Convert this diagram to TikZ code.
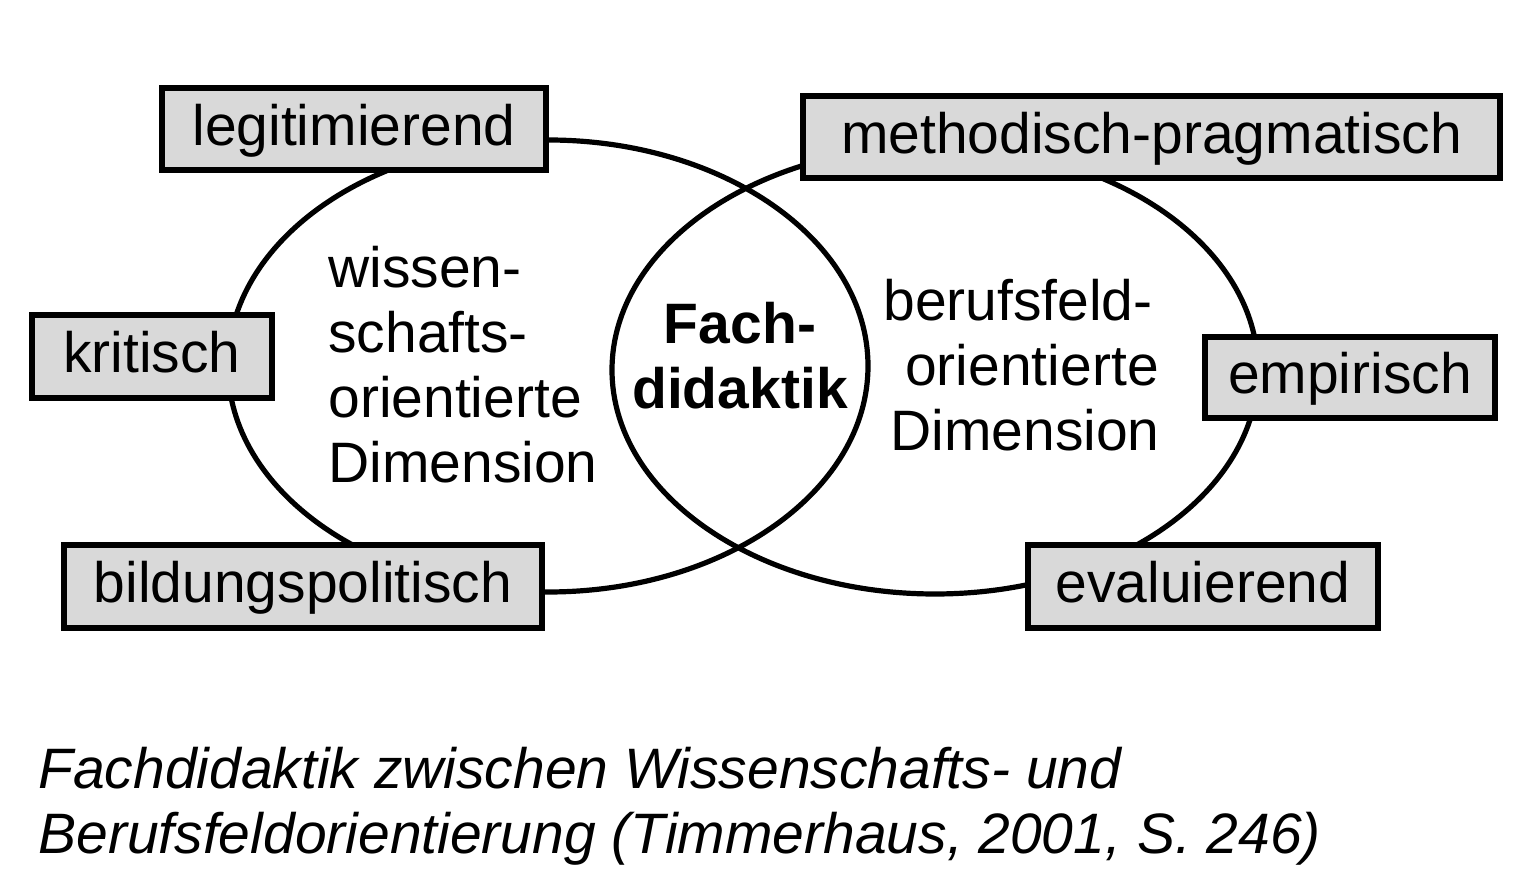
\documentclass[tikz,border=0pt]{standalone}
\usepackage{fontspec}
\setmainfont{Liberation Sans}
\usetikzlibrary{shapes.geometric}
\definecolor{boxgray}{HTML}{D9D9D9}
\tikzset{
  dimension/.style={draw, ellipse, line width=2.6pt, inner sep=0pt},
  label box/.style={draw, fill=boxgray, line width=3pt, inner sep=0pt,
    font=\fontsize{28.5}{32.5}\selectfont, text height=22.8pt, text depth=6.5pt},
  body/.style={inner sep=0pt, font=\fontsize{28.5}{32.5}\selectfont},
  title/.style={body, font=\fontsize{28.5}{32.5}\selectfont\bfseries},
  caption/.style={inner sep=0pt, anchor=base west, font=\fontsize{28.5}{32.5}\selectfont\itshape}
}
\begin{document}
\begin{tikzpicture}[x=0.5pt, y=-0.5pt]
\useasboundingbox (0,0) rectangle (1532,886);

% the two overlapping dimensions
\node[dimension, minimum width=320pt, minimum height=226pt] (wiss) at (548,366) {};
\node[dimension, minimum width=323pt, minimum height=224pt] (beruf) at (935,370) {};

% labelled boxes around the ellipses
\node[label box, minimum width=192pt, minimum height=41pt] (legit) at (354,129) {legitimierend};
\node[label box, minimum width=120pt, minimum height=41.5pt] (krit) at (152,356.5) {kritisch};
\node[label box, minimum width=239pt, minimum height=41.5pt] (bild) at (303,586.5) {bildungspolitisch};
\node[label box, minimum width=348.5pt, minimum height=41pt] (meth) at (1151.5,137) {methodisch-pragmatisch};
\node[label box, minimum width=145pt, minimum height=40.5pt] (emp) at (1350,377.5) {empirisch};
\node[label box, minimum width=175pt, minimum height=41.5pt] (eval) at (1203,586.5) {evaluierend};

% science-oriented dimension
\node[body, anchor=base west] (w1) at (328,288) {wissen-};
\node[body, anchor=base west] (w2) at (328,353) {schafts-};
\node[body, anchor=base west] (w3) at (328,418) {orientierte};
\node[body, anchor=base west] (w4) at (328,483) {Dimension};

% centre
\node[title, anchor=base] (f1) at (740,344) {Fach-};
\node[title, anchor=base] (f2) at (740,409) {didaktik};

% professional-field dimension
\node[body, anchor=base] (b1) at (1018,321) {berufsfeld-};
\node[body, anchor=base] (b2) at (1032,386) {orientierte};
\node[body, anchor=base] (b3) at (1025,451) {Dimension};

% caption
\node[caption] (c1) at (38,789) {Fachdidaktik zwischen Wissenschafts- und};
\node[caption] (c2) at (38,854) {Berufsfeldorientierung (Timmerhaus, 2001, S. 246)};
\end{tikzpicture}
\end{document}
